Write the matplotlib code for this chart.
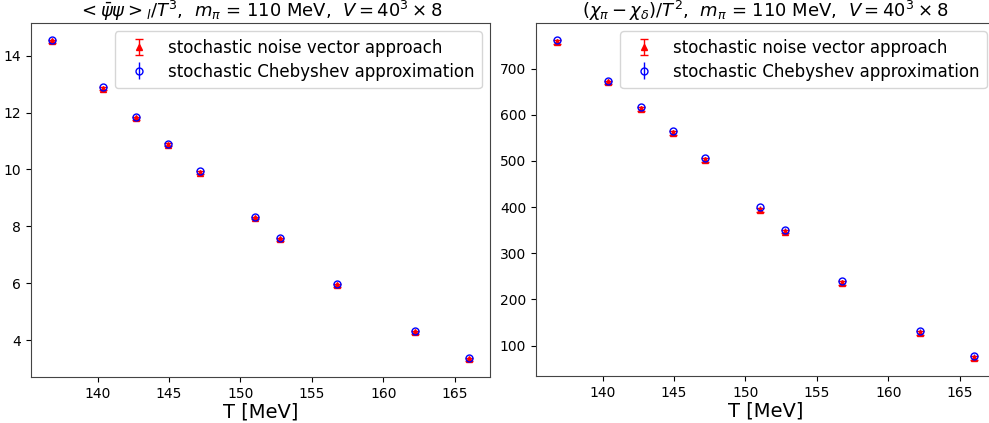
import matplotlib
matplotlib.use("Agg")
import matplotlib.pyplot as plt
import numpy as np

T = [136.8, 140.4, 142.7, 144.95, 147.2, 151.0, 152.75, 156.78, 162.24, 166.0]

pbp_noise = [14.51, 12.84, 11.79, 10.87, 9.89, 8.29, 7.55, 5.93, 4.27, 3.32]
pbp_noise_err = [0.05, 0.05, 0.05, 0.05, 0.05, 0.05, 0.05, 0.05, 0.05, 0.05]
pbp_cheb = [14.55, 12.88, 11.83, 10.91, 9.93, 8.33, 7.59, 5.98, 4.31, 3.37]
pbp_cheb_err = [0.03, 0.03, 0.03, 0.03, 0.03, 0.03, 0.03, 0.03, 0.03, 0.03]

chi_noise = [757, 670, 613, 560, 502, 394, 347, 235, 127, 73]
chi_noise_err = [4, 4, 4, 4, 4, 4, 4, 4, 4, 4]
chi_cheb = [761, 674, 616, 564, 506, 400, 351, 240, 132, 78]
chi_cheb_err = [3, 3, 3, 3, 3, 3, 3, 3, 3, 3]

titles = [r'$<\bar{\psi}\psi>_l/T^3$,  $m_\pi$ = 110 MeV,  $V=40^3\times8$',
          r'$(\chi_\pi-\chi_\delta)/T^2$,  $m_\pi$ = 110 MeV,  $V=40^3\times8$']
xlabel = 'T [MeV]'
labels = ['stochastic noise vector approach', 'stochastic Chebyshev approximation']

fig = plt.figure(figsize=(9.89, 4.23), dpi=100)
ax1 = fig.add_axes([31/989, 46/423, 459/989, 354/423])
ax2 = fig.add_axes([536/989, 47/423, 459/989, 353/423])

for ax, yn, en, yc, ec, title in [
        (ax1, pbp_noise, pbp_noise_err, pbp_cheb, pbp_cheb_err, titles[0]),
        (ax2, chi_noise, chi_noise_err, chi_cheb, chi_cheb_err, titles[1])]:
    ax.errorbar(T, yn, yerr=en, fmt='^', color='red', ms=4, capsize=3,
                elinewidth=1, label=labels[0])
    ax.errorbar(T, yc, yerr=ec, fmt='o', color='blue', mfc='none', ms=5,
                capsize=0, elinewidth=1, label=labels[1])
    ax.set_title(title, fontsize=13, pad=0)
    ax.set_xlabel(xlabel, fontsize=14, labelpad=1)
    ax.tick_params(labelsize=10)
    ax.set_xticks([140, 145, 150, 155, 160, 165])
    ax.legend(loc='upper right', fontsize=12, handletextpad=0.7,
              borderpad=0.45, labelspacing=0.35)
    for s in ax.spines.values():
        s.set_color('#444444')

fig.savefig('out.png', dpi=100)
